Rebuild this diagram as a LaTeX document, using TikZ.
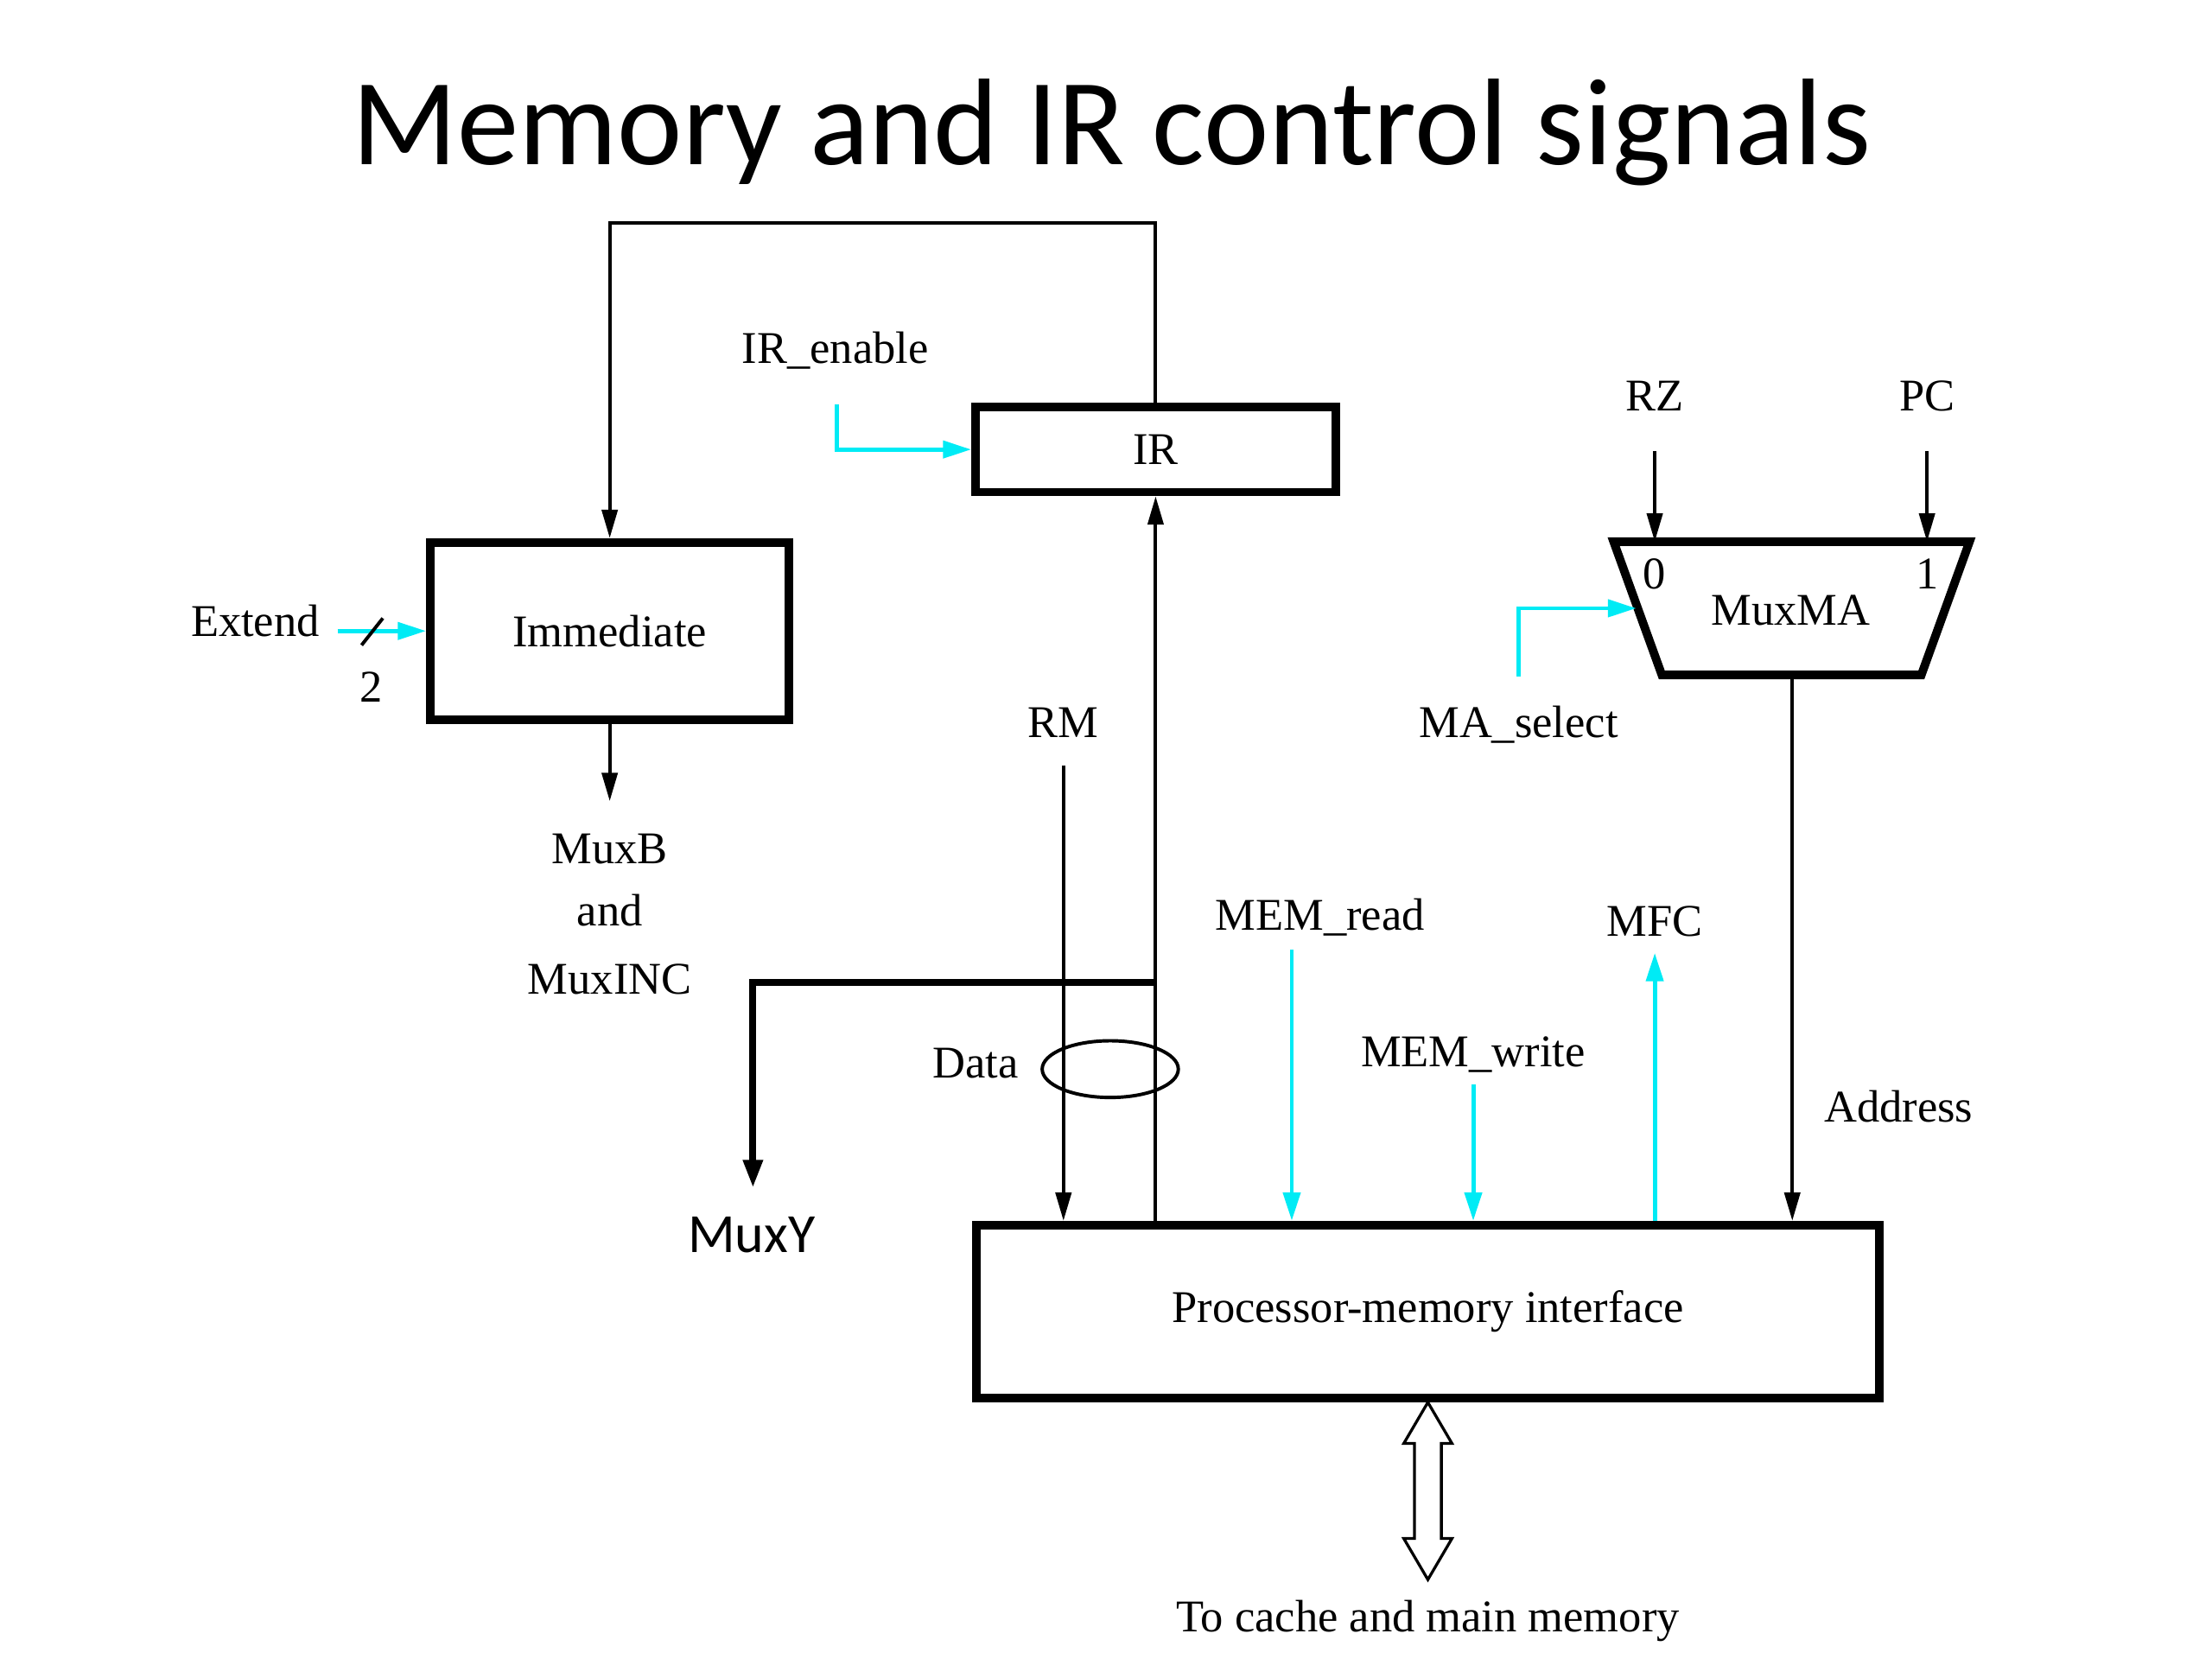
\documentclass[tikz,border=0pt]{standalone}
\usepackage{fontspec}
\setmainfont{Liberation Serif}
\newfontfamily\calibri{Carlito}
\usetikzlibrary{arrows.meta}
\definecolor{sigcyan}{RGB}{0,235,245}
\begin{document}
\begin{tikzpicture}[x=0.5pt,y=-0.5pt,
  lbl/.style={font=\fontsize{16}{19}\selectfont, inner sep=0pt, anchor=base},
  blk/.style={draw, line width=3pt, font=\fontsize{16}{19}\selectfont, inner sep=0pt},
  wire/.style={line width=1.2pt},
  arr/.style={wire, -{Triangle[length=10pt,width=5.5pt]}},
  sig/.style={draw=sigcyan, line width=1.5pt, -{Triangle[length=10pt,width=6pt]}},
  bus/.style={line width=2.5pt, -{Triangle[length=10pt,width=6.5pt]}},
]
\useasboundingbox (0,0) rectangle (1560,1170);

% title
\node[font=\calibri\fontsize{43.5}{52}\selectfont, inner sep=0pt, anchor=base] (title) at (784,116) {Memory and IR control signals};

% blocks
\node[blk, minimum width=127pt, minimum height=30pt] (ir) at (815,317) {IR};
\node[blk, minimum width=126.5pt, minimum height=62.5pt] (imm) at (430,445) {Immediate};
\node[blk, minimum width=318.5pt, minimum height=61pt] (pmi) at (1007,925) {Processor-memory interface};

% MuxMA trapezoid
\coordinate (mtl) at (1138,382);
\coordinate (mtr) at (1389,382);
\coordinate (mbr) at (1355,476);
\coordinate (mbl) at (1172,476);
\draw[line width=3pt, line join=miter] (mtl) -- (mtr) -- (mbr) -- (mbl) -- cycle;
\node[lbl] (muxma) at (1263,441) {MuxMA};
\node[lbl] (in0) at (1167,415) {0};
\node[lbl] (in1) at (1359,415) {1};

% feedback IR -> Immediate
\coordinate (fb) at (815,157);
\draw[arr] (ir.north) -- (fb) -| (imm.north);

% IR input from bus
\draw[arr] (ir |- pmi.north) -- (ir.south);

% IR_enable
\node[lbl] (iren) at (589,256) {IR\_enable};
\coordinate (irs) at (590,285);
\draw[sig] (irs) |- (ir.west);

% Extend
\node[lbl] (ext) at (180,449) {Extend};
\coordinate (extstart) at (238,445);
\draw[sig] (extstart) -- (imm.west);
\coordinate (sl1) at (255,455);
\coordinate (sl2) at (270,436);
\draw[wire] (sl1) -- (sl2);
\node[lbl] (two) at (262,495) {2};

% Immediate output
\coordinate (immout) at (430,565);
\draw[arr] (imm.south) -- (immout);
\node[lbl] (mb1) at (430,609) {MuxB};
\node[lbl] (mb2) at (430,653) {and};
\node[lbl] (mb3) at (430,701) {MuxINC};

% RM
\node[lbl] (rm) at (750,520) {RM};
\coordinate (rms) at (750,540);
\draw[arr] (rms) -- (rms |- pmi.north);

% Data bus to MuxY
\coordinate (dj) at (815,693);
\coordinate (muxyend) at (531,838);
\draw[bus] (dj) -| (muxyend);
\node[font=\calibri\fontsize{19.5}{23}\selectfont, inner sep=0pt, anchor=base] (muxy) at (530,883) {MuxY};

% Data ellipse
\draw[wire] (783,754) ellipse [x radius=24pt, y radius=10pt];
\node[lbl] (data) at (688,760) {Data};

% RZ, PC
\node[lbl] (rz) at (1167,290) {RZ};
\coordinate (rzs) at (1167,318);
\draw[arr] (rzs) -- (rzs |- mtl);
\node[lbl] (pc) at (1359,290) {PC};
\coordinate (pcs) at (1359,318);
\draw[arr] (pcs) -- (pcs |- mtr);

% MA_select
\node[lbl] (mas) at (1071,520) {MA\_select};
\coordinate (mass) at (1071,477);
\coordinate (masend) at (1154,429);
\draw[sig] (mass) |- (masend);

% Address
\coordinate (mout) at (1264,476);
\draw[arr] (mout) -- (mout |- pmi.north);
\node[lbl] (addr) at (1339,791) {Address};

% MEM_read
\node[lbl] (mr) at (931,656) {MEM\_read};
\coordinate (mrs) at (911,670);
\draw[sig] (mrs) -- (mrs |- pmi.north);

% MEM_write
\node[lbl] (mw) at (1039,752) {MEM\_write};
\coordinate (mws) at (1039,765);
\draw[sig] (mws) -- (mws |- pmi.north);

% MFC
\node[lbl] (mfc) at (1167,660) {MFC};
\coordinate (mfce) at (1167,672);
\draw[sig] (mfce |- pmi.north) -- (mfce);

% hollow double arrow
\draw[line width=1pt, fill=white, line join=miter]
  (1007,989) -- (1024,1018) -- (1016.5,1018) -- (1016.5,1085) -- (1024,1085)
  -- (1007,1114) -- (990,1085) -- (997.5,1085) -- (997.5,1018) -- (990,1018) -- cycle;
\node[lbl] (cache) at (1007,1151) {To cache and main memory};

\end{tikzpicture}
\end{document}
